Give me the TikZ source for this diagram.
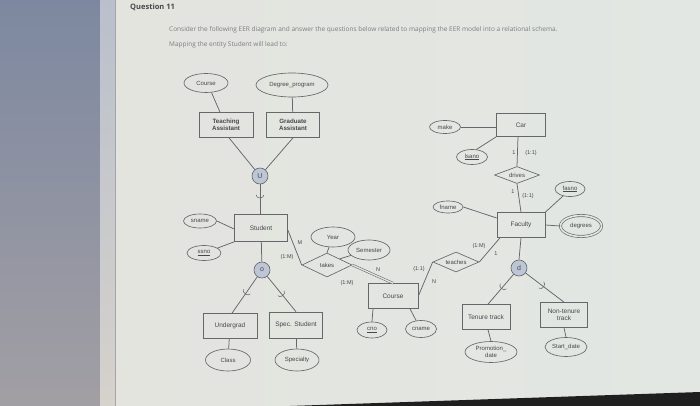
\documentclass[tikz,border=0pt]{standalone}
\usepackage{fontspec}
\setmainfont{Liberation Sans}
\newfontfamily\qfont{Open Sans}
\usetikzlibrary{shapes.geometric,decorations.markings,calc}
\definecolor{lc}{RGB}{100,103,108}
\definecolor{tc}{RGB}{70,72,76}
\definecolor{cf}{RGB}{190,198,214}
\definecolor{pageL}{RGB}{228,227,221}
\definecolor{pageR}{RGB}{226,231,227}
\definecolor{bandT}{RGB}{125,136,160}
\definecolor{bandB}{RGB}{162,159,164}
\definecolor{stripT}{RGB}{185,192,204}
\definecolor{stripB}{RGB}{214,210,204}
\tikzset{
  ent/.style={draw=lc, line width=0.65pt, rectangle, inner sep=1pt, align=center, text=tc, font=\fontsize{6.5}{7}\selectfont},
  attr/.style={draw=lc, line width=0.65pt, ellipse, inner sep=0pt, align=center, text=tc, font=\fontsize{6}{6.5}\selectfont},
  rel/.style={draw=lc, line width=0.65pt, diamond, inner sep=0pt, aspect=2.3, text=tc, font=\fontsize{6}{6.5}\selectfont},
  sym/.style={draw=lc, line width=0.65pt, circle, fill=cf, minimum size=16pt, inner sep=0pt, text=tc, font=\fontsize{7}{7.5}\selectfont},
  card/.style={text=tc, font=\fontsize{5.5}{6}\selectfont, inner sep=0pt},
  conn/.style={draw=lc, line width=0.75pt},
  subarc/.style={postaction={decorate, decoration={markings, mark=at position #1 with {\draw[lc, line width=0.55pt] (-2pt,4pt) .. controls (2pt,4pt) and (2pt,-4pt) .. (-2pt,-4pt);}}}}
}
\begin{document}
\begin{tikzpicture}[x=1pt,y=-1pt]
\useasboundingbox (0,0) rectangle (700,406);
% background
\shade[left color=pageL, right color=pageR] (0,0) rectangle (700,406);
\shade[top color=bandT, bottom color=bandB] (0,0) rectangle (100,406);
\shade[top color=stripT, bottom color=stripB] (100,0) rectangle (115,406);
\draw[color=lc!60, line width=0.4pt] (115,0) -- (115,406);
\fill[black!88] (290,406) -- (700,392) -- (700,406) -- cycle;

% header text
\node[anchor=west, text=tc, font=\qfont\bfseries\fontsize{7.5}{8}\selectfont, inner sep=0pt] (q) at (130,7) {Question 11};
\node[anchor=west, text=lc!85, font=\qfont\fontsize{6.5}{7}\selectfont, inner sep=0pt] (l1) at (169,30) {Consider the following EER diagram and answer the questions below related to mapping the EER model into a relational schema.};
\node[anchor=west, text=lc!85, font=\qfont\fontsize{6.5}{7}\selectfont, inner sep=0pt] (l2) at (169,45) {Mapping the entity Student will lead to:};

% entities and attributes (left)
\node[attr, minimum width=44pt, minimum height=19pt] (tcourse) at (206,83) {Course};
\node[attr, minimum width=72pt, minimum height=24pt] (dprog) at (292,85) {Degree\_program};
\node[ent, font=\bfseries\fontsize{6.2}{6.8}\selectfont, minimum width=54pt, minimum height=25pt] (ta) at (226,125) {Teaching\\Assistant};
\node[ent, font=\bfseries\fontsize{6.2}{6.8}\selectfont, minimum width=53pt, minimum height=25pt] (ga) at (293,125) {Graduate\\Assistant};
\node[sym] (u) at (260,176) {U};
\node[ent, minimum width=53pt, minimum height=27pt] (stud) at (261,228) {Student};
\node[attr, minimum width=33pt, minimum height=14pt] (sname) at (200,221) {sname};
\node[attr, minimum width=34pt, minimum height=15pt] (ssno) at (204,253) {\underline{ssno}};
\node[sym] (o) at (262,270) {o};
\node[ent, minimum width=54pt, minimum height=25pt] (ug) at (230,326) {Undergrad};
\node[ent, minimum width=53pt, minimum height=26pt] (sp) at (296,325) {Spec. Student};
\node[attr, minimum width=45pt, minimum height=22pt] (class) at (228,360) {Class};
\node[attr, minimum width=44pt, minimum height=22pt] (spec) at (297,360) {Specialty};

% takes / course
\node[rel, minimum width=50pt, minimum height=24pt] (takes) at (327,265) {takes};
\node[attr, minimum width=44pt, minimum height=20pt] (year) at (333,237) {Year};
\node[attr, minimum width=42pt, minimum height=20pt] (sem) at (369,250) {Semester};
\node[ent, minimum width=50pt, minimum height=25pt] (crs) at (393,296) {Course};
\node[attr, minimum width=30pt, minimum height=16pt] (cno) at (372,330) {\underline{cno}};
\node[attr, minimum width=31pt, minimum height=17pt] (cname) at (421,329) {cname};

% faculty side
\node[rel, minimum width=46pt, minimum height=20pt] (teaches) at (456,262) {teaches};
\node[ent, minimum width=48pt, minimum height=25pt] (fac) at (521,225) {Faculty};
\node[attr, minimum width=30pt, minimum height=12pt] (fname) at (448,207) {fname};
\node[rel, minimum width=45pt, minimum height=17pt] (drives) at (517,175) {drives};
\node[ent, minimum width=49pt, minimum height=23pt] (car) at (521,125) {Car};
\node[attr, minimum width=31pt, minimum height=13pt] (make) at (445,127) {make};
\node[attr, minimum width=31pt, minimum height=15pt] (lsano) at (472,157) {\underline{lsano}};
\node[attr, minimum width=30pt, minimum height=15pt] (fasno) at (570,189) {\underline{fasno}};
\node[attr, double=pageR, double distance=1.6pt, minimum width=41pt, minimum height=21pt] (degs) at (581,226) {degrees};
\node[sym] (d) at (519,268) {d};
\node[ent, minimum width=48pt, minimum height=25pt] (ten) at (486,317) {Tenure track};
\node[ent, minimum width=47pt, minimum height=25pt] (nt) at (564,315) {Non-tenure\\track};
\node[attr, minimum width=52pt, minimum height=21pt] (promo) at (491,352) {Promotion\_\\date};
\node[attr, minimum width=42pt, minimum height=19pt] (start) at (566,347) {Start\_date};

% connectors
\draw[conn] (tcourse.300) -- ([xshift=-6pt]ta.north);
\draw[conn] (dprog) -- (ga);
\draw[conn] ([xshift=3pt]ta.south) -- (u);
\draw[conn] (ga.south) -- (u);
\draw[conn, subarc=0.42] (u) -- (u |- stud.north);
\draw[conn] (sname.east) -- ([yshift=-1pt]stud.west);
\draw[conn] (ssno.20) -- (stud.south west);
\draw[conn] (stud) -- (o);
\draw[conn, subarc=0.45] (o) -- ([xshift=2pt]ug.north);
\draw[conn, subarc=0.52] (o) -- (sp.north);
\draw[conn] (ug) -- (class);
\draw[conn] (sp) -- (spec);
\draw[conn] ([yshift=-2pt]stud.east) -- (takes.west);
\draw[conn] (year) -- (takes.north);
\draw[conn] (sem) -- (takes.north east);
\draw[draw=lc, line width=0.55pt, double=pageR, double distance=1.3pt] (takes.east) -- (crs.north);
\draw[conn] ([xshift=-20pt]crs.south) -- (cno.north);
\draw[conn] ([xshift=17pt]crs.south) -- (cname.120);
\draw[conn] (crs.east) -- (teaches.west);
\draw[conn] (teaches.east) -- ([xshift=-21pt]fac.south);
\draw[conn] (fname.east) -- ([yshift=7pt]fac.west);
\draw[conn] (make) -- (make -| car.west);
\draw[conn] (lsano.60) -- (car.south west);
\draw[conn] ([xshift=-3pt]car.south) -- (drives.north);
\draw[conn] (drives.south) -- (fac.north);
\draw[conn] (fac.north east) -- (fasno.225);
\draw[conn] (fac.east) -- (degs.west);
\draw[conn] (fac.south) -- (d.north);
\draw[conn, subarc=0.45] (d) -- ([xshift=2pt]ten.north);
\draw[conn, subarc=0.45] (d) -- (nt.north);
\draw[conn] ([xshift=2pt]ten.south) -- (promo.north);
\draw[conn] (nt.south) -- (start.north);

% cardinalities
\node[card] (c1) at (300,243) {M};
\node[card] (c2) at (287,257) {(1:M)};
\node[card] (c3) at (378,270) {N};
\node[card] (c4) at (347,283) {(1:M)};
\node[card] (c5) at (419,269) {(1:1)};
\node[card] (c6) at (434,282) {N};
\node[card] (c7) at (479,246) {(1:M)};
\node[card] (c8) at (496,254) {1};
\node[card] (c9) at (514,153) {1};
\node[card] (c10) at (531,153) {(1:1)};
\node[card] (c11) at (513,192) {1};
\node[card] (c12) at (528,196) {(1:1)};
\end{tikzpicture}
\end{document}
